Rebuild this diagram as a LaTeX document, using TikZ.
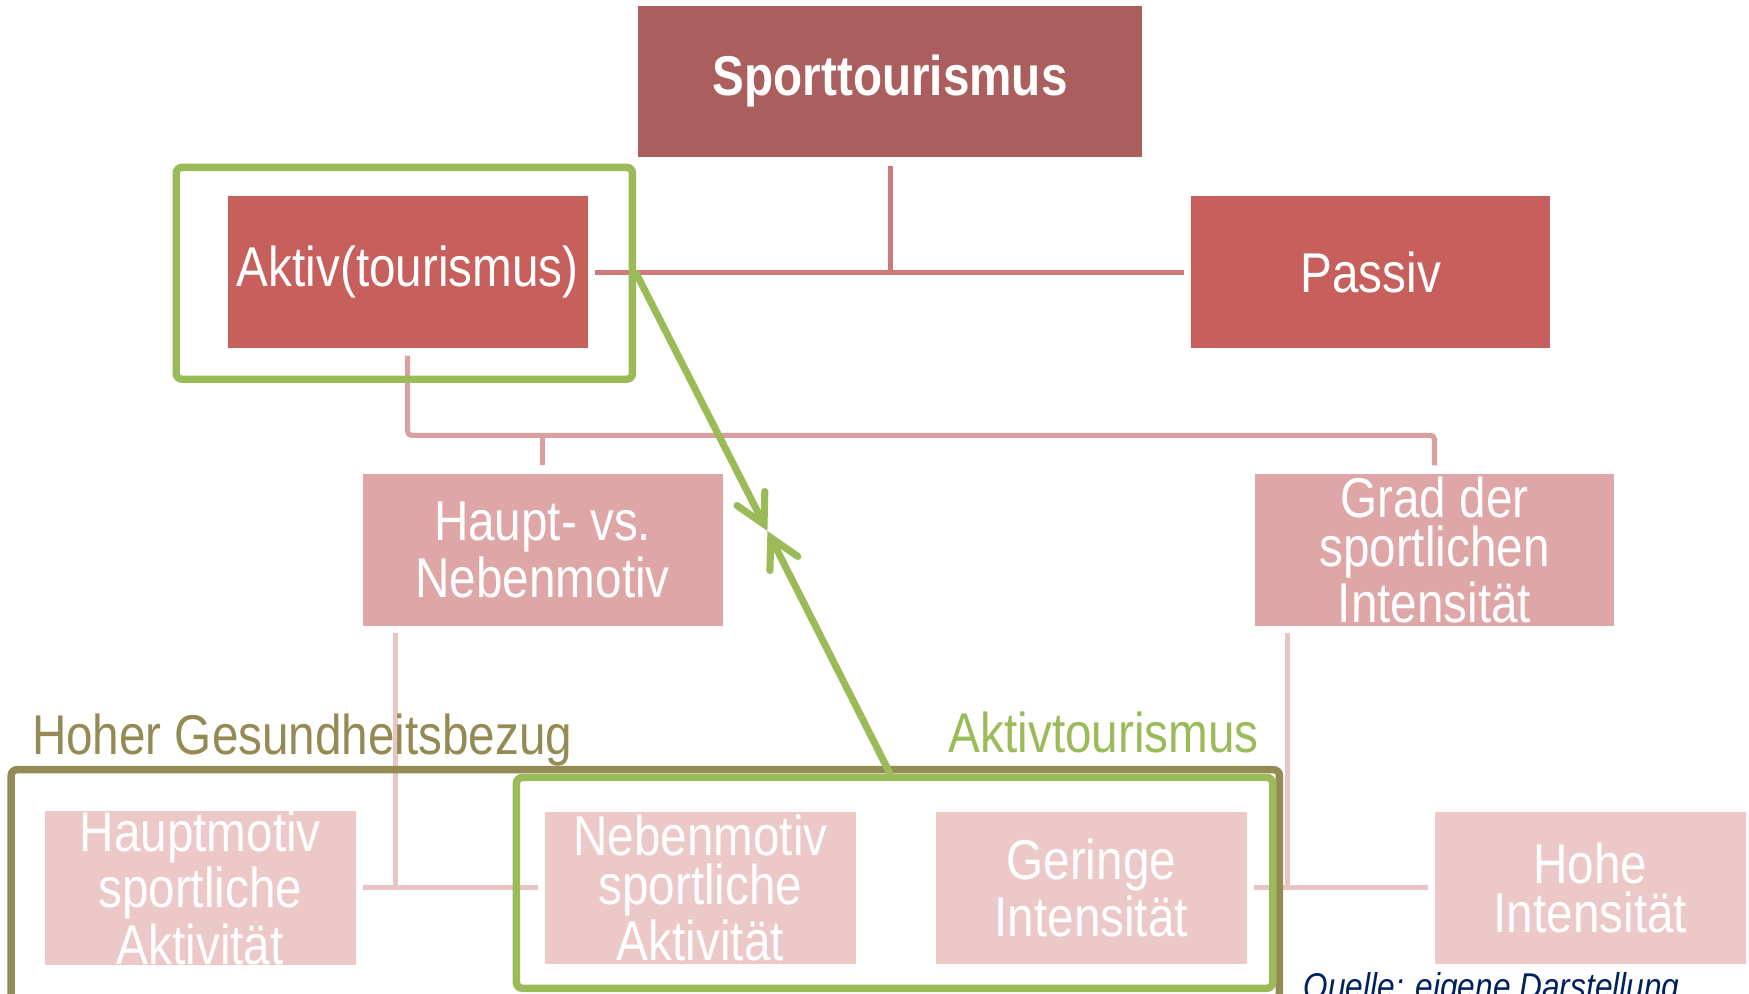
\documentclass[tikz,border=0pt]{standalone}
\usepackage{fontspec}
\setmainfont{Liberation Sans}[FakeStretch=0.85]
\usepackage{xcolor}
\usepackage{tikz}
\usetikzlibrary{arrows.meta, positioning, fit}
\definecolor{sportred}{RGB}{171,94,94}
\definecolor{aktivred}{RGB}{199,96,92}
\definecolor{motivpink}{RGB}{222,166,166}
\definecolor{leafpink}{RGB}{236,200,200}
\definecolor{linkred}{RGB}{207,122,122}
\definecolor{linkpink}{RGB}{218,160,160}
\definecolor{linklight}{RGB}{232,196,196}
\definecolor{aktivgreen}{RGB}{155,187,89}
\definecolor{gesundolive}{RGB}{148,138,84}
\definecolor{quellblue}{RGB}{0,32,96}
\newcommand{\catfont}{\fontsize{14.3}{12.5}\selectfont}
\tikzset{
  catbox/.style={
    rectangle, inner sep=0pt, align=center, text=white,
    font=\catfont, minimum height=1.36cm
  },
  sportbox/.style={
    catbox, fill=sportred, font=\catfont\bfseries, minimum width=4.52cm
  },
  leafbox/.style={
    catbox, fill=leafpink, minimum width=2.79cm
  },
  linkA/.style={line width=1.3pt, color=linkred},
  linkB/.style={line width=1.3pt, color=linkpink, rounded corners=1pt},
  linkC/.style={line width=1.3pt, color=linklight},
  groupframe/.style={
    draw, line width=1.9pt, rounded corners=1.5pt, inner sep=0pt
  },
  grouplabel/.style={
    anchor=base west, inner sep=0pt, font=\catfont
  },
  greenarrow/.style={
    -{Straight Barb[length=2.6mm, width=2.8mm, line cap=round]},
    line width=1.8pt, color=aktivgreen, line cap=round
  },
}
\begin{document}
\begin{tikzpicture}
  \fill[white] (0,0) rectangle (15.68,-8.91);
  \clip (0,0) rectangle (15.68,-8.91);

  % Kategorien
  \node[sportbox] (sport) at (7.98,-0.73) {Sporttourismus};
  \node[catbox, fill=aktivred, minimum width=3.23cm] (aktiv) at (3.655,-2.44)
    {Aktiv(tourismus)};
  \node[catbox, fill=aktivred, minimum width=3.22cm] (passiv) at (12.29,-2.44)
    {Passiv};
  \node[catbox, fill=motivpink, minimum width=3.23cm] (hauptneben) at (4.865,-4.93)
    {Haupt- vs.\\Nebenmotiv};
  \node[catbox, fill=motivpink, minimum width=3.22cm] (grad) at (12.86,-4.93)
    {Grad der\\sportlichen\\Intensität};
  \node[leafbox] (hauptmotiv) at (1.795,-7.96)
    {Hauptmotiv\\sportliche\\Aktivität};
  \node[leafbox, right=1.68cm of hauptmotiv] (nebenmotiv)
    {Nebenmotiv\\sportliche\\Aktivität};
  \node[leafbox, right=0.70cm of nebenmotiv] (geringe) {Geringe\\Intensität};
  \node[leafbox, right=1.67cm of geringe] (hohe) {Hohe\\Intensität};

  % Verbindungen
  \draw[linkA] ([yshift=-0.07cm]sport.south) -- (sport.south |- aktiv.east);
  \draw[linkA] ([xshift=0.06cm]aktiv.east) -- ([xshift=-0.06cm]passiv.west);

  \draw[linkB] ([yshift=-0.06cm]aktiv.south)
    |- ([yshift=0.34cm]grad.north) coordinate (knot)
    -- ([yshift=0.07cm]grad.north);
  \draw[linkB] (hauptneben.north |- knot) -- ([yshift=0.07cm]hauptneben.north);

  \draw[linkC] ([xshift=0.30cm,yshift=-0.06cm]hauptneben.south west)
    |- ([xshift=-0.05cm]nebenmotiv.west);
  \draw[linkC] ([xshift=0.06cm]hauptmotiv.east) -- ([xshift=-0.05cm]nebenmotiv.west);
  \draw[linkC] ([xshift=0.30cm,yshift=-0.06cm]grad.south west)
    |- ([xshift=-0.05cm]hohe.west);
  \draw[linkC] ([xshift=0.06cm]geringe.east) -- ([xshift=-0.05cm]hohe.west);

  % Rahmen
  \node[groupframe, color=gesundolive, fit={(0.10,-6.90) (11.47,-9.10)}] (gesund) {};
  \node[groupframe, color=aktivgreen, fit={(4.63,-6.97) (11.41,-8.86)}] (aktivbottom) {};
  \node[groupframe, color=aktivgreen, fit={(1.58,-1.50) (5.67,-3.40)}] (aktivtop) {};

  % Pfeile
  \coordinate (meet) at (6.88,-4.76);
  \draw[greenarrow] (aktivtop.east) -- (meet);
  \draw[greenarrow] ([xshift=-0.04cm]aktivbottom.north) -- (meet);

  % Beschriftungen
  \node[grouplabel, text=gesundolive] (gesundlabel) at (0.28,-6.76)
    {Hoher Gesundheitsbezug};
  \node[grouplabel, text=aktivgreen] (aktivlabel) at (8.50,-6.75)
    {Aktivtourismus};
  \node[grouplabel, text=quellblue, font=\fontsize{9.5}{11}\selectfont\itshape]
    (quelle) at (11.68,-8.96) {Quelle: eigene Darstellung};
\end{tikzpicture}
\end{document}
